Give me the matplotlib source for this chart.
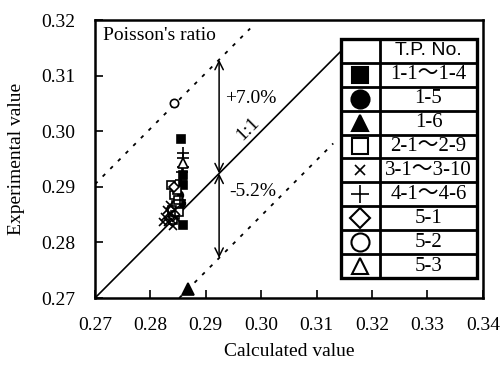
import matplotlib.pyplot as plt
from matplotlib.patches import Rectangle

plt.rcParams['font.family'] = ['Liberation Serif', 'Noto Sans CJK JP', 'DejaVu Sans']

# data (calculated, experimental)
sq_fill_x = [0.2856, 0.2859, 0.2859, 0.2859]
sq_fill_y = [0.2986, 0.2921, 0.2903, 0.2831]
circ_fill_x = [0.2850, 0.2853]
circ_fill_y = [0.2885, 0.2871]
tri_fill_x = [0.2867]
tri_fill_y = [0.2716]
sq_open_x = [0.2838, 0.2843, 0.2846, 0.2839, 0.2850, 0.2844, 0.2848, 0.2841, 0.2851]
sq_open_y = [0.2903, 0.2885, 0.2867, 0.2858, 0.2876, 0.2849, 0.2894, 0.2840, 0.2855]
cross_x = [0.2826, 0.2832, 0.2835, 0.2839, 0.2844, 0.2823, 0.2846, 0.2830, 0.2841, 0.2835]
cross_y = [0.2846, 0.2837, 0.2851, 0.2840, 0.2858, 0.2837, 0.2844, 0.2858, 0.2829, 0.2867]
plus_x = [0.2858, 0.2858, 0.2858, 0.2857, 0.2855, 0.2853]
plus_y = [0.2960, 0.2952, 0.2936, 0.2927, 0.2912, 0.2876]
dia_x = [0.2842]
dia_y = [0.2900]
circ_open_x = [0.2843]
circ_open_y = [0.3051]
tri_open_x = [0.2858]
tri_open_y = [0.2942]

tp_labels = ['1-1～1-4', '1-5', '1-6', '2-1～2-9', '3-1～3-10',
             '4-1～4-6', '5-1', '5-2', '5-3']

upper_pct = 7.0
lower_pct = -5.2
ref_x = 0.2924   # where the arrows are drawn

# x, y, marker, filled, size in plot, size in table
series = [
    (sq_fill_x, sq_fill_y, 's', True, 6, 11),
    (circ_fill_x, circ_fill_y, 'o', True, 7, 13),
    (tri_fill_x, tri_fill_y, '^', True, 8, 12),
    (sq_open_x, sq_open_y, 's', False, 6, 11),
    (cross_x, cross_y, 'x', False, 6, 7),
    (plus_x, plus_y, '+', False, 8, 13),
    (dia_x, dia_y, 'D', False, 5.5, 10),
    (circ_open_x, circ_open_y, 'o', False, 6, 13),
    (tri_open_x, tri_open_y, '^', False, 7, 11),
]


def main():
    fig = plt.figure(figsize=(5.04, 3.67), dpi=100)
    ax = fig.add_axes([0.1885, 0.188, 0.7695, 0.7575])

    ax.set_xlim(0.27, 0.34)
    ax.set_ylim(0.27, 0.32)

    # table position (axes fraction)
    x0, x1, xm = 0.634, 0.985, 0.735
    y_top, y_bot = 0.932, 0.072
    x_tab = 0.27 + x0 * 0.07

    # 1:1 line and the +/- lines
    ax.plot([0.27, x_tab], [0.27, x_tab], color='black', lw=1.2, zorder=2)
    up = ref_x * upper_pct / 100
    lo = ref_x * lower_pct / 100
    ax.plot([0.27, 0.298], [0.27 + up, 0.298 + up], color='black', lw=1.3,
            ls=(0, (2, 4)), zorder=2)
    ax.plot([0.27 - lo, 0.313], [0.27, 0.313 + lo], color='black', lw=1.3,
            ls=(0, (2, 4)), zorder=2)

    # arrows
    for d in (up, lo):
        ax.annotate('', xy=(ref_x, ref_x + d), xytext=(ref_x, ref_x),
                    arrowprops=dict(arrowstyle='<->', color='black', lw=1.1,
                                    shrinkA=0, shrinkB=0, mutation_scale=15))
    ax.text(ref_x + 0.001, 0.3058, '+%.1f%%' % upper_pct, fontsize=14,
            va='center', ha='left')
    ax.text(ref_x + 0.0018, 0.2891, '%.1f%%' % lower_pct, fontsize=14,
            va='center', ha='left')
    ax.text(0.2976, 0.3004, '1:1', fontsize=14, rotation=45,
            va='center', ha='center', rotation_mode='anchor')

    for xs, ys, m, filled, ms, _ in series:
        if m in ('x', '+'):
            ax.plot(xs, ys, ls='none', marker=m, ms=ms, color='black',
                    mew=1.2, zorder=3)
        else:
            ax.plot(xs, ys, ls='none', marker=m, ms=ms,
                    mfc='black' if filled else 'white', mec='black',
                    mew=1.2, zorder=3)

    ax.text(0.02, 0.945, "Poisson's ratio", transform=ax.transAxes,
            fontsize=14, va='center', ha='left')

    # legend table
    nrow = len(tp_labels) + 1
    rh = (y_top - y_bot) / nrow
    ax.add_patch(Rectangle((x0, y_bot), x1 - x0, y_top - y_bot,
                           transform=ax.transAxes, facecolor='white',
                           edgecolor='black', lw=2.4, zorder=5))
    for i in range(1, nrow):
        yy = y_top - i * rh
        ax.plot([x0, x1], [yy, yy], transform=ax.transAxes, color='black',
                lw=2, zorder=6)
    ax.plot([xm, xm], [y_bot, y_top], transform=ax.transAxes, color='black',
            lw=2, zorder=6)
    ax.text((xm + x1) / 2, y_top - rh / 2, 'T.P. No.', transform=ax.transAxes,
            family='Liberation Sans', fontsize=14, ha='center', va='center',
            zorder=7)
    for i, (lab, s) in enumerate(zip(tp_labels, series)):
        m, filled, big = s[2], s[3], s[5]
        yc = y_top - (i + 1.5) * rh
        ax.text((xm + x1) / 2, yc, lab, transform=ax.transAxes, fontsize=15,
                ha='center', va='center', zorder=7)
        if m in ('x', '+'):
            ax.plot([(x0 + xm) / 2], [yc], transform=ax.transAxes, marker=m,
                    ms=big, color='black', mew=1.2, zorder=7, clip_on=False)
        else:
            ax.plot([(x0 + xm) / 2], [yc], transform=ax.transAxes, marker=m,
                    ms=big, mfc='black' if filled else 'white', mec='black',
                    mew=1.5, zorder=7, clip_on=False)

    ax.set_xticks([0.27, 0.28, 0.29, 0.30, 0.31, 0.32, 0.33, 0.34])
    ax.set_yticks([0.27, 0.28, 0.29, 0.30, 0.31, 0.32])
    ax.xaxis.set_major_formatter(plt.FormatStrFormatter('%.2f'))
    ax.yaxis.set_major_formatter(plt.FormatStrFormatter('%.2f'))
    ax.tick_params(direction='in', length=6, width=1.2, labelsize=14,
                   top=False, right=False)
    ax.tick_params(axis='x', pad=14)
    ax.tick_params(axis='y', pad=14)
    for s in ax.spines.values():
        s.set_linewidth(1.8)

    ax.set_xlabel('Calculated value', fontsize=14, labelpad=6)
    ax.set_ylabel('Experimental value', fontsize=14, labelpad=12)

    fig.savefig('out.png', dpi=100)


if __name__ == '__main__':
    main()
